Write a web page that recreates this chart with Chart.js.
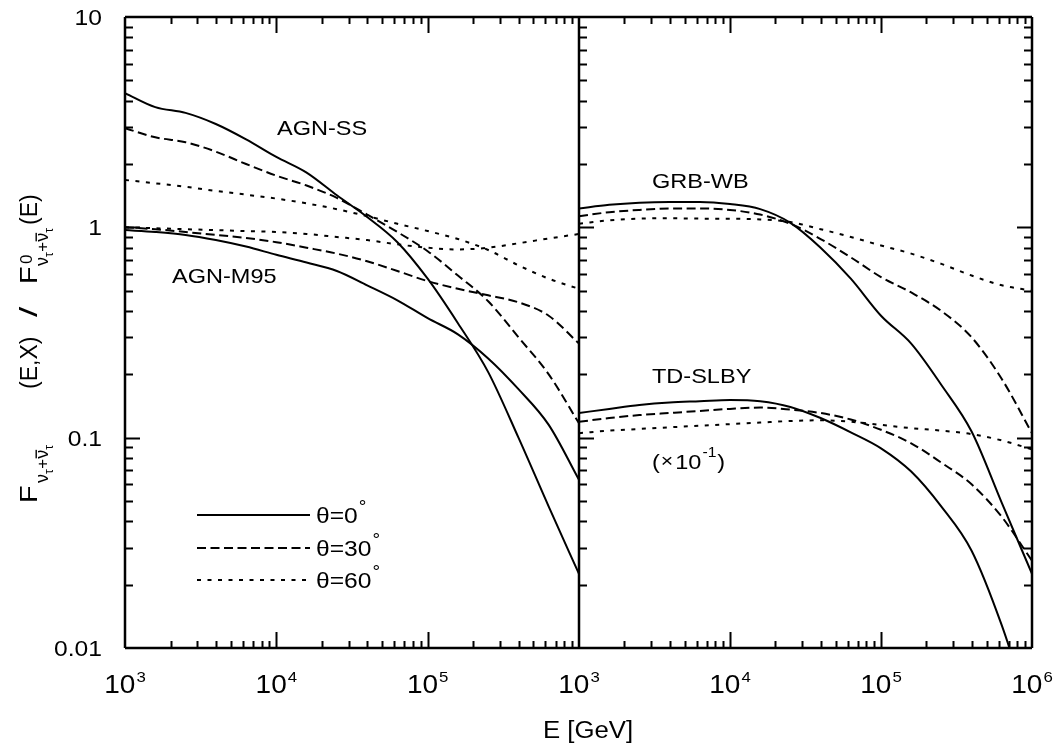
<!DOCTYPE html>
<html lang="en">
<head>
<meta charset="UTF-8">
<title>Tau neutrino flux ratio</title>
<style>
  body { margin: 0; background: #fff; }
  #wrap { position: relative; width: 1057px; height: 749px; }
  #wrap canvas { position: absolute; left: 0; top: 0; }
</style>
</head>
<body>
<div id="wrap">
  <canvas id="left" width="1057" height="749"></canvas>
  <canvas id="right" width="1057" height="749"></canvas>
</div>
<script src="https://cdn.jsdelivr.net/npm/chart.js"></script>
<script>
// energy grid in GeV (shared by every curve)
var energy = [1000, 1585, 2512, 3981, 6310, 10000, 15849, 25119, 39811, 63096,
              100000, 158489, 251189, 398107, 630957, 1000000];

// left panel
var agnSS_0   = [4.35, 3.73, 3.50, 3.10, 2.62, 2.16, 1.82, 1.42, 1.12, 0.85, 0.57, 0.35, 0.205, 0.10, 0.047, 0.0225];
var agnSS_30  = [2.96, 2.68, 2.54, 2.29, 2.00, 1.76, 1.58, 1.38, 1.15, 0.95, 0.77, 0.59, 0.445, 0.30, 0.20, 0.117];
var agnSS_60  = [1.68, 1.62, 1.56, 1.49, 1.43, 1.37, 1.30, 1.22, 1.13, 1.04, 0.96, 0.88, 0.78, 0.66, 0.57, 0.51];
var agnM95_0  = [0.97, 0.95, 0.92, 0.87, 0.81, 0.74, 0.68, 0.62, 0.53, 0.45, 0.37, 0.31, 0.238, 0.17, 0.115, 0.063];
var agnM95_30 = [1.00, 0.98, 0.95, 0.92, 0.89, 0.85, 0.80, 0.75, 0.69, 0.62, 0.555, 0.51, 0.475, 0.44, 0.38, 0.28];
var agnM95_60 = [1.00, 0.99, 0.98, 0.97, 0.96, 0.95, 0.93, 0.90, 0.87, 0.83, 0.80, 0.785, 0.80, 0.84, 0.885, 0.93];

// right panel (TD-SLBY already multiplied by 0.1)
var grbWB_0   = [1.23, 1.28, 1.31, 1.32, 1.32, 1.29, 1.22, 1.05, 0.80, 0.57, 0.38, 0.28, 0.178, 0.107, 0.049, 0.0225];
var grbWB_30  = [1.13, 1.18, 1.21, 1.23, 1.23, 1.21, 1.15, 1.04, 0.88, 0.72, 0.58, 0.49, 0.40, 0.30, 0.19, 0.105];
var grbWB_60  = [1.04, 1.08, 1.10, 1.105, 1.10, 1.10, 1.09, 1.06, 0.98, 0.90, 0.82, 0.75, 0.67, 0.59, 0.53, 0.50];
var tdSLBY_0  = [0.131, 0.137, 0.143, 0.147, 0.149, 0.151, 0.149, 0.140, 0.124, 0.106, 0.089, 0.069, 0.047, 0.029, 0.0128, 0.0046];
var tdSLBY_30 = [0.119, 0.124, 0.128, 0.131, 0.134, 0.137, 0.139, 0.136, 0.131, 0.122, 0.109, 0.094, 0.076, 0.060, 0.042, 0.026];
var tdSLBY_60 = [0.105, 0.108, 0.110, 0.112, 0.114, 0.116, 0.118, 0.120, 0.121, 0.119, 0.115, 0.111, 0.108, 0.104, 0.097, 0.088];

var yTickValues = [0.01, 0.1, 1, 10];
var yTickLabels = ['0.01', '0.1', '1', '10'];
var xTicksLeft = [1e3, 1e4, 1e5];
var xTicksRight = [1e3, 1e4, 1e5, 1e6];
var angles = ['0', '30', '60'];

var FONT = '"Liberation Sans", Arial, Helvetica, sans-serif';
var SX = 1.12; // lettering in the picture is a little wide
Chart.defaults.font.family = FONT;
Chart.defaults.color = '#000';

var dashes = { solid: [], dashed: [9, 4.5], dotted: [4, 6.5] };

function series(values, style) {
    return {
        data: energy.map(function (e, i) { return { x: e, y: values[i] }; }),
        borderColor: '#000',
        borderWidth: 2,
        borderDash: dashes[style],
        pointRadius: 0,
        fill: false,
        cubicInterpolationMode: 'monotone'
    };
}

// draw a string, stretched a bit horizontally, returns its width
function text(ctx, s, x, y, size, align, sx) {
    sx = sx || SX;
    ctx.save();
    ctx.font = size + 'px ' + FONT;
    ctx.fillStyle = '#000';
    ctx.textBaseline = 'alphabetic';
    var w = ctx.measureText(s).width * sx;
    if (align === 'center') x -= w / 2;
    if (align === 'right') x -= w;
    ctx.translate(x, y);
    ctx.scale(sx, 1);
    ctx.fillText(s, 0, 0);
    ctx.restore();
    return w;
}

// 2..9 x 10^n positions strictly inside a range, plus decades
function logSteps(min, max) {
    var out = [];
    var p0 = Math.floor(Math.log10(min) + 1e-9), p1 = Math.ceil(Math.log10(max) - 1e-9);
    for (var p = p0; p <= p1; p++) {
        for (var m = 1; m <= 9; m++) {
            var v = m * Math.pow(10, p);
            if (v > min * 1.0001 && v < max * 0.9999) out.push({ v: v, major: m === 1 });
        }
    }
    return out;
}

function frameAndTicks(chart, sides) {
    var ctx = chart.ctx, a = chart.chartArea;
    var xs = chart.scales.x, ys = chart.scales.y;
    ctx.save();
    ctx.strokeStyle = '#000';
    ctx.lineWidth = 2;
    ctx.setLineDash([]);
    ctx.beginPath();
    logSteps(xs.min, xs.max).forEach(function (t) {
        var px = Math.round(xs.getPixelForValue(t.v)) + 0.5;
        var len = t.major ? 16 : 7;
        ctx.moveTo(px, a.top); ctx.lineTo(px, a.top + len);
        ctx.moveTo(px, a.bottom); ctx.lineTo(px, a.bottom - len);
    });
    logSteps(ys.min, ys.max).forEach(function (t) {
        var py = Math.round(ys.getPixelForValue(t.v)) + 0.5;
        var len = t.major ? 15 : 8;
        if (sides.indexOf('left') >= 0) { ctx.moveTo(a.left, py); ctx.lineTo(a.left + len, py); }
        if (sides.indexOf('right') >= 0) { ctx.moveTo(a.right, py); ctx.lineTo(a.right - len, py); }
    });
    ctx.stroke();

    ctx.lineWidth = 2.5;
    ctx.beginPath();
    ctx.moveTo(a.left, a.top); ctx.lineTo(a.right, a.top);
    ctx.moveTo(a.left, a.bottom); ctx.lineTo(a.right, a.bottom);
    if (sides.indexOf('left') >= 0) { ctx.moveTo(a.left, a.top); ctx.lineTo(a.left, a.bottom); }
    if (sides.indexOf('right') >= 0) { ctx.moveTo(a.right, a.top); ctx.lineTo(a.right, a.bottom); }
    ctx.stroke();
    ctx.restore();
}

function xTickLabels(chart, values) {
    var ctx = chart.ctx, xs = chart.scales.x;
    values.forEach(function (v) {
        var px = xs.getPixelForValue(v);
        var exp = String(Math.round(Math.log10(v)));
        ctx.save();
        ctx.font = '25px ' + FONT;
        var w1 = ctx.measureText('10').width * SX;
        ctx.font = '15px ' + FONT;
        var w2 = ctx.measureText(exp).width * SX;
        ctx.restore();
        var x0 = px - (w1 + w2 + 1) / 2;
        text(ctx, '10', x0, 693, 25);
        text(ctx, exp, x0 + w1 + 1, 682, 15);
    });
}

function yTickText(chart) {
    var ctx = chart.ctx, ys = chart.scales.y;
    yTickValues.forEach(function (v, i) {
        var py = ys.getPixelForValue(v);
        text(ctx, yTickLabels[i], 102, py + 8, 22, 'right');
    });
}

// nu_tau + anti-nu_tau subscript, drawn in rotated frame
function flavourSub(ctx, u, v) {
    var x = u;
    x += text(ctx, '\u03BD', x, v + 11, 18, 'left', 1);
    x += text(ctx, '\u03C4', x, v + 16, 12, 'left', 1);
    x += text(ctx, '+', x + 0.5, v + 11, 17, 'left', 1) + 0.5;
    var w = text(ctx, '\u03BD', x, v + 11, 18, 'left', 1);
    ctx.fillRect(x + 0.5, v - 1.5, w - 0.5, 1.4);
    x += w;
    text(ctx, '\u03C4', x, v + 16, 12, 'left', 1);
}

function yTitle(ctx) {
    ctx.save();
    ctx.translate(37, 503);
    ctx.rotate(-Math.PI / 2);
    ctx.fillStyle = '#000';
    text(ctx, 'F', 0, 0, 23, 'left', 1.25);
    flavourSub(ctx, 20, 0);
    text(ctx, '(E,X)', 114, 0, 23, 'left', 1);
    text(ctx, '/', 186, 0, 23, 'left', 1.6);
    text(ctx, 'F', 219, 0, 23, 'left', 1.25);
    text(ctx, '0', 239, -5, 17, 'left', 1);
    flavourSub(ctx, 237, 0);
    text(ctx, '(E)', 278, 0, 23, 'left', 1);
    ctx.restore();
}

var leftDecor = {
    id: 'leftDecor',
    afterDatasetsDraw: function (chart) {
        var ctx = chart.ctx;
        frameAndTicks(chart, ['left']);
        xTickLabels(chart, xTicksLeft);
        yTickText(chart);

        text(ctx, 'AGN-SS', 277, 135, 21);
        text(ctx, 'AGN-M95', 172, 283, 21);

        // legend for the zenith angles
        var rows = [515, 548, 580];
        chart.data.datasets.slice(0, 3).forEach(function (ds, i) {
            ctx.save();
            ctx.strokeStyle = '#000';
            ctx.lineWidth = 2;
            ctx.setLineDash(ds.borderDash);
            ctx.beginPath();
            ctx.moveTo(197, rows[i]);
            ctx.lineTo(310, rows[i]);
            ctx.stroke();
            ctx.restore();
            var w = text(ctx, '\u03B8=' + angles[i], 316, rows[i] + 8, 22);
            text(ctx, '\u00B0', 316 + w + 1, rows[i] - 3, 17);
        });

        text(ctx, 'E [GeV]', 588, 738, 23, 'center');
        yTitle(ctx);
    }
};

var rightDecor = {
    id: 'rightDecor',
    afterDatasetsDraw: function (chart) {
        var ctx = chart.ctx;
        frameAndTicks(chart, ['left', 'right']);
        xTickLabels(chart, xTicksRight);
        text(ctx, 'GRB-WB', 652, 188, 21);
        text(ctx, 'TD-SLBY', 652, 383, 21);
        var x = 652;
        x += text(ctx, '(', x, 469, 21);
        x += text(ctx, '\u00D7', x + 1, 467, 19) + 3;
        x += text(ctx, '10', x, 469, 21);
        x += text(ctx, '-1', x + 1, 457, 14) + 2;
        text(ctx, ')', x, 469, 21);
    }
};

function options(padding) {
    return {
        responsive: false,
        animation: false,
        devicePixelRatio: 1,
        events: [],
        layout: { padding: padding },
        plugins: { legend: { display: false }, tooltip: { enabled: false } },
        scales: {
            x: { type: 'logarithmic', min: 1e3, max: 1e6, display: false },
            y: { type: 'logarithmic', min: 0.01, max: 10, display: false }
        }
    };
}

new Chart(document.getElementById('left'), {
    type: 'line',
    data: {
        datasets: [
            series(agnSS_0, 'solid'), series(agnSS_30, 'dashed'), series(agnSS_60, 'dotted'),
            series(agnM95_0, 'solid'), series(agnM95_30, 'dashed'), series(agnM95_60, 'dotted')
        ]
    },
    options: options({ left: 125, top: 17, right: 478, bottom: 101 }),
    plugins: [leftDecor]
});

new Chart(document.getElementById('right'), {
    type: 'line',
    data: {
        datasets: [
            series(grbWB_0, 'solid'), series(grbWB_30, 'dashed'), series(grbWB_60, 'dotted'),
            series(tdSLBY_0, 'solid'), series(tdSLBY_30, 'dashed'), series(tdSLBY_60, 'dotted')
        ]
    },
    options: options({ left: 579, top: 17, right: 25, bottom: 101 }),
    plugins: [rightDecor]
});
</script>
</body>
</html>
